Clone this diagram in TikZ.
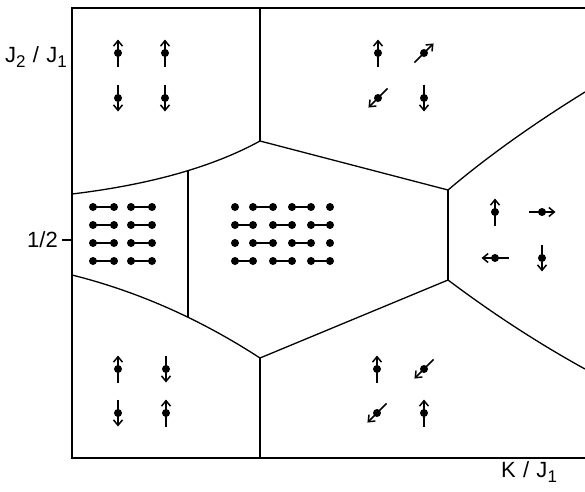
\documentclass[tikz,border=0pt]{standalone}
\usepackage{fontspec}
\setmainfont{Liberation Sans}
\usetikzlibrary{arrows.meta}

% one spin: centre x, centre y, direction (picture y points down)
\newcommand{\spinat}[3]{%
  \draw[spin] (#1,#2) ++(#3+180:13.5) -- ++(#3:27);
  \fill (#1,#2) circle (4pt);}
% one dimer: left x, right x, row y
\newcommand{\dimerat}[3]{%
  \draw[bond] (#1,#3) -- (#2,#3);
  \fill (#1,#3) circle (4pt) (#2,#3) circle (4pt);}
\newcommand{\sub}[1]{\raisebox{-0.45ex}{\fontsize{17}{17}\selectfont #1}}

\begin{document}
\begin{tikzpicture}[x=1pt, y=-1pt,
    border/.style={line width=1.3pt},
    phase/.style={line width=1.3pt},
    spin/.style={line width=1.5pt, -{Straight Barb[length=5.5pt, width=9pt, line width=1.5pt]}},
    bond/.style={line width=1.5pt},
    axislabel/.style={font=\fontsize{22}{24}\selectfont, inner sep=0pt}
]
    \useasboundingbox (0,0) rectangle (585,491);

    % Frame
    \draw[border] (585,8) -- (72,8) -- (72,458) -- (585,458);
    \draw[border] (62,240) -- (72,240);

    % Phase boundary vertices
    \coordinate (top) at (260,141);
    \coordinate (upleft) at (188,171);
    \coordinate (lowleft) at (188,316.5);
    \coordinate (bottom) at (260,358);
    \coordinate (upright) at (448,190);
    \coordinate (lowright) at (448,280);

    % Boundaries
    \draw[phase] (260,8) -- (top);
    \draw[phase] (72,194) .. controls (150.1,184.6) and (212.8,166.9) .. (top);
    \draw[phase] (72,275) .. controls (137.3,291.3) and (200,319) .. (bottom);
    \draw[phase] (upleft) -- (lowleft);
    \draw[phase] (top) -- (upright);
    \draw[phase] (bottom) -- (lowright);
    \draw[phase] (upright) -- (lowright);
    \draw[phase] (bottom) -- (260,458);
    \draw[phase] (upright) .. controls (485.9,157.8) and (531.5,125.1) .. (585,92);
    \draw[phase] (lowright) .. controls (493.3,314) and (539,343.7) .. (585,369);

    % Upper left phase
    \spinat{118}{53}{-90} \spinat{165}{53}{-90}
    \spinat{118}{98}{90}  \spinat{165}{98}{90}

    % Upper right phase
    \spinat{378}{53}{-90} \spinat{424}{53}{-45}
    \spinat{378}{98}{135} \spinat{424}{98}{90}

    % Lower left phase
    \spinat{118}{369}{-90} \spinat{166}{369}{90}
    \spinat{118}{413}{90}  \spinat{166}{413}{-90}

    % Lower right phase
    \spinat{377}{369}{-90} \spinat{424}{369}{135}
    \spinat{377}{413}{135} \spinat{424}{413}{-90}

    % Right phase
    \spinat{495}{212}{-90} \spinat{542}{212}{0}
    \spinat{495}{258}{180} \spinat{542}{258}{90}

    % Dimer phases
    \foreach \y in {207,225,243,261} {
        \dimerat{93}{114}{\y}
        \dimerat{131}{152}{\y}
    }
    \foreach \y in {207,243} {
        \fill (235,\y) circle (4pt) (330,\y) circle (4pt);
        \dimerat{253}{273}{\y}
        \dimerat{292}{311}{\y}
    }
    \foreach \y in {225,261} {
        \dimerat{235}{253}{\y}
        \dimerat{273}{292}{\y}
        \dimerat{311}{330}{\y}
    }

    % Axis labels
    \node[axislabel] (ylabel) at (36,57) {J\sub{2}\,\,/\,\,J\sub{1}};
    \node[axislabel, anchor=east] (half) at (58,240) {1/2};
    \node[axislabel] (xlabel) at (529,472) {K\,\,/\,\,J\sub{1}};
\end{tikzpicture}
\end{document}
